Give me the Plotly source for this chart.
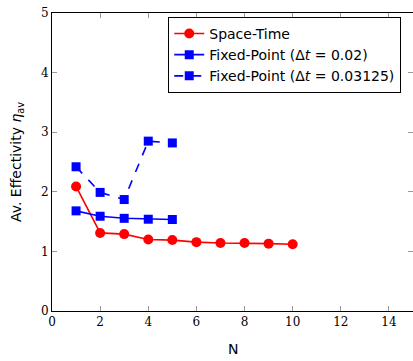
import plotly.graph_objects as go

n_st = [1, 2, 3, 4, 5, 6, 7, 8, 9, 10]
eta_st = [2.09, 1.31, 1.29, 1.20, 1.19, 1.155, 1.14, 1.14, 1.13, 1.12]

n_fp1 = [1, 2, 3, 4, 5]
eta_fp1 = [1.68, 1.59, 1.555, 1.54, 1.535]

n_fp2 = [1, 2, 3, 4, 5]
eta_fp2 = [2.42, 1.99, 1.87, 2.85, 2.82]

x_ticks = [0, 2, 4, 6, 8, 10, 12, 14]
y_ticks = [0, 1, 2, 3, 4, 5]

serif = "DejaVu Serif"
sans = "DejaVu Sans"

fig = go.Figure()
fig.add_trace(go.Scatter(x=n_st, y=eta_st, mode="lines+markers", name="Space-Time",
                         line=dict(color="#ff0000", width=1.6),
                         marker=dict(symbol="circle", size=10, color="#ff0000")))
fig.add_trace(go.Scatter(x=n_fp1, y=eta_fp1, mode="lines+markers",
                         name="Fixed-Point (Δ<i>t</i> = 0.02)",
                         line=dict(color="#0000ff", width=1.6),
                         marker=dict(symbol="square", size=9, color="#0000ff")))
fig.add_trace(go.Scatter(x=n_fp2, y=eta_fp2, mode="lines+markers",
                         name="Fixed-Point (Δ<i>t</i> = 0.03125)",
                         line=dict(color="#0000ff", width=1.6, dash="dash"),
                         marker=dict(symbol="square", size=9, color="#0000ff")))
# invisible trace for right-side ticks
fig.add_trace(go.Scatter(x=[0], y=[0], yaxis="y2", mode="markers",
                         marker=dict(opacity=0), showlegend=False, hoverinfo="skip"))

fig.update_layout(
    width=413, height=361,
    margin=dict(l=52, r=0, t=13, b=50),
    plot_bgcolor="white", paper_bgcolor="white",
    hovermode=False,
    showlegend=True,
    legend=dict(x=0.322, y=0.987, xanchor="left", yanchor="top",
                bordercolor="black", borderwidth=1, bgcolor="white",
                font=dict(family=sans, size=14, color="black"),
                tracegroupgap=0, itemwidth=30),
    xaxis=dict(range=[0, 15], tickvals=x_ticks, ticks="inside", ticklen=5,
               tickcolor="#999999", showline=True, linecolor="black", linewidth=1,
               mirror="ticks", showgrid=False, zeroline=False, automargin=False,
               ticklabeloverflow="allow", showspikes=False,
               tickfont=dict(family=serif, size=12, color="black")),
    yaxis=dict(range=[0, 5], tickvals=y_ticks, ticks="inside", ticklen=5,
               tickcolor="#999999", showline=True, linecolor="black", linewidth=1,
               showgrid=False, zeroline=False, automargin=False,
               ticklabeloverflow="allow", showspikes=False,
               tickfont=dict(family=serif, size=12, color="black")),
    yaxis2=dict(range=[0, 5], tickvals=y_ticks, ticks="inside", ticklen=5,
                tickcolor="#999999", overlaying="y", side="right",
                showline=False, showgrid=False, zeroline=False,
                showticklabels=False, automargin=False),
    annotations=[
        dict(text="N", x=0.5, y=-0.095, xref="paper", yref="paper",
             xanchor="center", yanchor="top", showarrow=False,
             font=dict(family=sans, size=14, color="black")),
        dict(text="Av. Effectivity <i>η</i><sub>av</sub>", textangle=-90,
             x=-0.097, y=0.5, xref="paper", yref="paper",
             xanchor="center", yanchor="middle", showarrow=False,
             font=dict(family=sans, size=14, color="black")),
    ],
)

fig.write_html("out.html",
               config={"displayModeBar": False, "staticPlot": True},
               post_script="document.body.style.margin='0';document.body.style.overflow='hidden';")
